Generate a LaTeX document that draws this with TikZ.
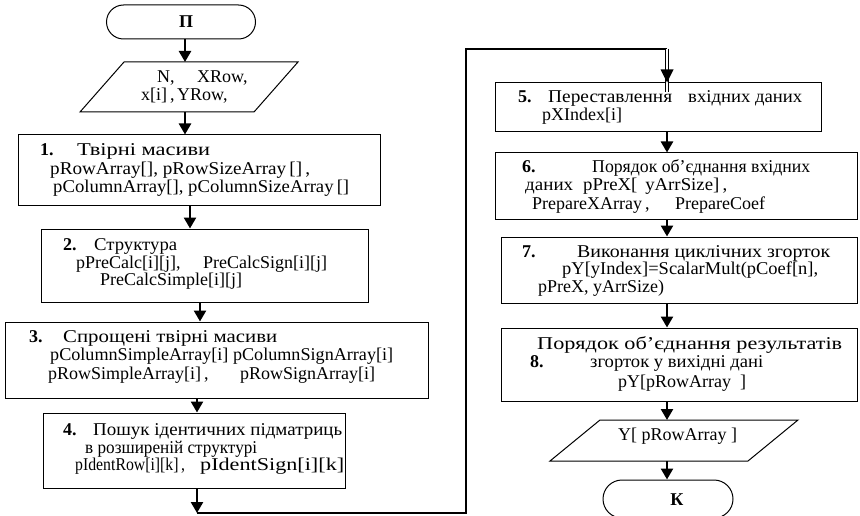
\documentclass[tikz,border=0pt]{standalone}
\usepackage{fontspec}
\usepackage{graphicx}
\setmainfont{Liberation Serif}
\usetikzlibrary{arrows.meta,calc}
\newlength\wfitlen
\newcommand\wfit[2]{\settowidth\wfitlen{#2}\pgfmathsetmacro\wfitf{#1/\wfitlen}\scalebox{\wfitf}[1]{#2}}
\begin{document}
\begin{tikzpicture}[x=1pt,y=-1pt,
  box/.style={draw, line width=1pt, inner sep=0pt},
  term/.style={draw, line width=1pt, inner sep=0pt},
  frame/.style={inner sep=0pt, outer sep=0pt},
  pline/.style={line width=1pt, line join=miter},
  txt/.style={inner sep=0pt, anchor=mid west, font=\fontsize{18}{18}\selectfont},
  ctxt/.style={inner sep=0pt, anchor=mid, font=\fontsize{18}{18}\selectfont\bfseries},
  arr/.style={line width=2.5pt, -{Triangle[length=11pt,width=12pt]}},
  link/.style={line width=2pt, line join=miter},
  dbl/.style={double, double distance=2pt, line width=0.8pt}]
\useasboundingbox (0,0) rectangle (860,516);

% arrow x positions
\coordinate (xa) at (185,0);
\coordinate (xb) at (190,0);
\coordinate (xc) at (200,0);
\coordinate (xd) at (197,0);
\coordinate (xr) at (667,0);

% left column
\node[term, rounded corners=17pt, minimum width=149pt, minimum height=34pt] (start) at (181,22) {};
\node[ctxt] (startT) at (186,25) {П};
\node[frame, minimum width=218pt, minimum height=50pt] (pin) at (189,87) {};
\draw[pline] (pin.south west) -- ($(pin.north west)+(44,0)$) -- (pin.north east) -- ($(pin.south east)+(-44,0)$) -- cycle;
\node[txt] (pin1) at (157,80) {N,};
\node[txt] (pin2) at (197,80) {XRow,};
\node[txt] (pin3) at (141,98) {x[i]\,,};
\node[txt] (pin4) at (177,98) {YRow,};

\node[box, minimum width=362pt, minimum height=71pt] (b1) at (199,170.5) {};
\node[txt] (b1n) at (40,153) {\textbf{1.}};
\node[txt] (b1a) at (77,153) {\wfit{133}{Твірні масиви}};
\node[txt] (b1b) at (50,172) {\wfit{260}{pRowArray[], pRowSizeArray\,[]\,,}};
\node[txt] (b1c) at (53,190) {\wfit{296}{pColumnArray[], pColumnSizeArray\,[]}};

\node[box, minimum width=327pt, minimum height=73pt] (b2) at (204.5,265.5) {};
\node[txt] (b2n) at (63,248) {\textbf{2.}};
\node[txt] (b2a) at (94,248) {\wfit{83}{Структура}};
\node[txt] (b2b) at (76,266) {pPreCalc[i][j],};
\node[txt] (b2c) at (203,266) {PreCalcSign[i][j]};
\node[txt] (b2d) at (100,283) {PreCalcSimple[i][j]};

\node[box, minimum width=423pt, minimum height=76pt] (b3) at (216.5,360) {};
\node[txt] (b3n) at (29,340) {\textbf{3.}};
\node[txt] (b3a) at (63,340) {\wfit{214}{Спрощені твірні масиви}};
\node[txt] (b3b) at (50,358) {\wfit{343}{pColumnSimpleArray[i] pColumnSignArray[i]}};
\node[txt] (b3c) at (48,377) {pRowSimpleArray[i]\,,};
\node[txt] (b3d) at (240,377) {pRowSignArray[i]};

\node[box, minimum width=302pt, minimum height=75pt] (b4) at (194,450.5) {};
\node[txt] (b4n) at (63,433) {\textbf{4.}};
\node[txt] (b4a) at (93,433) {\wfit{249}{Пошук ідентичних підматриць}};
\node[txt] (b4b) at (85,451) {\wfit{172}{в розширеній структурі}};
\node[txt] (b4c) at (75,468) {\wfit{110}{pIdentRow[i][k]\,,}};
\node[txt] (b4d) at (200,468) {\wfit{144}{pIdentSign[i][k]}};

% right column
\node[box, minimum width=326pt, minimum height=49pt] (b5) at (658,107.5) {};
\node[txt] (b5n) at (518,100) {\textbf{5.}};
\node[txt] (b5a) at (548,100) {\wfit{124}{Переставлення}};
\node[txt] (b5b) at (688,100) {\wfit{114}{вхідних даних}};
\node[txt] (b5c) at (542,118) {pXIndex[i]};

\node[box, minimum width=362pt, minimum height=66pt] (b6) at (676,186) {};
\node[txt] (b6n) at (522,170) {\textbf{6.}};
\node[txt] (b6a) at (592,170) {\wfit{218}{Порядок об’єднання вхідних}};
\node[txt] (b6b) at (525,188) {\wfit{48}{даних}};
\node[txt] (b6c) at (583,188) {\wfit{144}{pPreX[\ \,yArrSize]\,,}};
\node[txt] (b6d) at (532,207) {PrepareXArray\,,};
\node[txt] (b6e) at (675,207) {PrepareCoef};

\node[box, minimum width=356pt, minimum height=66pt] (b7) at (679,270) {};
\node[txt] (b7n) at (522,255) {\textbf{7.}};
\node[txt] (b7a) at (577,255) {\wfit{253}{Виконання циклічних згорток}};
\node[txt] (b7b) at (562,272) {\wfit{256}{pY[yIndex]=ScalarMult(pCoef[n],}};
\node[txt] (b7c) at (538,290) {pPreX, yArrSize)};

\node[box, minimum width=356pt, minimum height=73pt] (b8) at (679,364.5) {};
\node[txt] (b8a) at (537,347) {\wfit{305}{Порядок об’єднання результатів}};
\node[txt] (b8n) at (530,365) {\textbf{8.}};
\node[txt] (b8b) at (590,365) {\wfit{173}{згорток у вихідні дані}};
\node[txt] (b8c) at (618,385) {pY[pRowArray\ \ ]};

\node[frame, minimum width=248pt, minimum height=41pt] (pout) at (674,440.5) {};
\draw[pline] (pout.south west) -- ($(pout.north west)+(50,0)$) -- (pout.north east) -- ($(pout.south east)+(-50,0)$) -- cycle;
\node[txt] (poutT) at (618,438) {Y[ pRowArray ]};

\node[term, rounded corners=19pt, minimum width=130pt, minimum height=38pt] (stop) at (668,499) {};
\node[ctxt] (stopT) at (677,503) {К};

% connectors
\draw[arr] (start.south -| xa) -- (pin.north -| xa);
\draw[arr] (pin.south -| xa) -- (b1.north -| xa);
\draw[arr] (b1.south -| xb) -- (b2.north -| xb);
\draw[arr] (b2.south -| xc) -- (b3.north -| xc);
\draw[arr] (b3.south -| xd) -- (b4.north -| xd);
\coordinate (c1) at (197,513);
\coordinate (c2) at (466,513);
\coordinate (c3) at (466,49);
\coordinate (c4) at (667,49);
\draw[arr] (b4.south -| xd) -- (c1);
\draw[link] (c1) -- (c2) -- (c3) -- (c4);
\draw[dbl] (c4) -- ([yshift=-10pt]b5.north -| xr);
\fill (b5.north -| xr) -- ++(-6.5,-13) -- ++(13,0) -- cycle;

\draw[arr] (b5.south -| xr) -- (b6.north -| xr);
\draw[arr] (b6.south -| xr) -- (b7.north -| xr);
\draw[arr] (b7.south -| xr) -- (b8.north -| xr);
\draw[arr] (b8.south -| xr) -- (pout.north -| xr);
\draw[arr] (pout.south -| xr) -- (stop.north -| xr);
\end{tikzpicture}
\end{document}
